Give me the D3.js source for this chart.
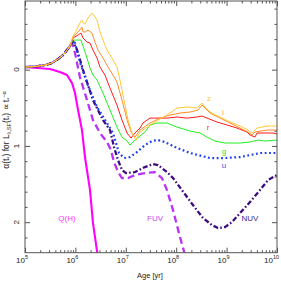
<!DOCTYPE html>
<html><head><meta charset="utf-8">
<script src="https://cdn.jsdelivr.net/npm/d3@7"></script>
<style>body{margin:0;background:#fff}svg{display:block}text{font-family:"Liberation Sans",Arial,sans-serif}</style>
</head><body><svg id="c" width="281" height="282"></svg>
<script>
// ---- data (age in yr, alpha) ----
const qhAge = [1e5,3.13e5,4.94e5,6.81e5,8.57e5,9.82e5,1.13e6,1.35e6,1.42e6,1.55e6,1.95e6,2.23e6,2.72e6,2.94e6];
const qhVal = [-0.034,-0.008,0.031,0.071,0.176,0.307,0.53,0.792,0.923,1.146,1.579,2.01,2.405,2.52];

const fuvAge = [1e5,1.58e5,2.49e5,3.43e5,4.52e5,5.68e5,6.81e5,7.82e5,8.57e5,9.82e5,1.23e6,1.70e6,2.23e6,3.08e6,4.24e6,5.08e6,5.83e6,7.0e6,8.41e6,1.11e7,1.52e7,2.4e7,3.79e7,5.22e7,6.56e7,8.65e7,1.19e8,1.5e8];
const fuvVal = [-0.034,-0.041,-0.060,-0.087,-0.139,-0.191,-0.257,-0.309,-0.362,-0.218,0.097,0.399,0.661,0.831,0.949,1.054,1.211,1.343,1.421,1.421,1.382,1.356,1.343,1.421,1.579,1.841,2.196,2.431];

const nuvAge = [1e5,1.58e5,2.49e5,3.43e5,4.52e5,5.68e5,6.81e5,7.82e5,8.96e5,1.08e6,1.42e6,2.23e6,3.53e6,4.86e6,5.83e6,7.0e6,8.41e6,1.01e7,1.52e7,2.4e7,3.47e7,4.36e7,6.56e7,8.65e7,1.30e8,2.15e8,3.40e8,5.13e8,6.75e8,9.29e8,1.28e9,1.85e9,2.91e9,4.6e9,6.62e9,1e10];
const nuvVal = [-0.034,-0.041,-0.060,-0.087,-0.139,-0.191,-0.257,-0.309,-0.375,-0.257,0.005,0.399,0.661,0.792,1.015,1.185,1.316,1.356,1.343,1.277,1.238,1.251,1.343,1.421,1.579,1.775,1.946,2.038,2.077,2.064,1.998,1.880,1.736,1.579,1.448,1.382];

const uAge = [1e5,1.58e5,2.49e5,3.43e5,4.52e5,5.68e5,6.81e5,7.82e5,8.96e5,9.82e5,1.23e6,1.70e6,2.69e6,4.24e6,5.57e6,6.4e6,7.33e6,9.2e6,1.21e7,1.67e7,2.4e7,3.31e7,4.36e7,6.0e7,9.47e7,1.88e8,4.69e8,9.29e8,1.85e9,2.91e9,4.6e9,7.26e9,1e10];
const uVal = [-0.034,-0.041,-0.060,-0.087,-0.139,-0.191,-0.257,-0.309,-0.388,-0.349,-0.100,0.176,0.490,0.700,0.831,0.962,1.093,1.159,1.146,1.080,0.989,0.936,0.923,0.949,1.015,1.093,1.159,1.159,1.146,1.120,1.093,1.093,1.093];

const gAge = [1e5,1.58e5,2.49e5,3.43e5,4.52e5,5.68e5,6.81e5,7.82e5,8.96e5,1.13e6,1.29e6,1.42e6,1.70e6,1.95e6,2.23e6,2.69e6,3.53e6,4.86e6,6.68e6,8.41e6,1.06e7,1.21e7,1.52e7,1.91e7,2.4e7,3.02e7,4.16e7,6.56e7,1.04e8,1.88e8,2.97e8,4.08e8,5.89e8,9.29e8,1.85e9,2.91e9,4.2e9,5.78e9,1e10];
const gVal = [-0.034,-0.041,-0.060,-0.087,-0.139,-0.191,-0.257,-0.309,-0.388,-0.388,-0.388,-0.309,-0.152,-0.021,0.071,0.136,0.307,0.530,0.753,0.884,0.936,0.989,0.923,0.871,0.818,0.726,0.700,0.700,0.753,0.805,0.831,0.884,0.936,0.962,0.962,0.949,0.923,0.936,0.923];

const rAge = [1e5,1.58e5,2.49e5,3.43e5,4.52e5,5.68e5,6.81e5,7.82e5,8.96e5,1.13e6,1.29e6,1.42e6,1.70e6,1.95e6,2.23e6,2.69e6,3.08e6,3.86e6,4.86e6,6.68e6,8.41e6,1.06e7,1.27e7,1.52e7,1.91e7,2.19e7,2.64e7,3.02e7,6.56e7,1.04e8,1.64e8,2.59e8,3.25e8,4.08e8,6.46e8,1.02e9,1.61e9,2.54e9,2.91e9,3.66e9,4.01e9,5.27e9,8.34e9,1e10];
const rVal = [-0.034,-0.041,-0.060,-0.087,-0.139,-0.191,-0.257,-0.309,-0.414,-0.454,-0.480,-0.414,-0.362,-0.349,-0.257,-0.152,-0.034,0.071,0.241,0.464,0.661,0.831,0.897,0.831,0.766,0.700,0.661,0.635,0.635,0.621,0.635,0.621,0.608,0.635,0.687,0.726,0.766,0.818,0.857,0.884,0.831,0.831,0.831,0.844];

const iAge = [1e5,1.58e5,2.49e5,3.43e5,4.52e5,5.68e5,6.81e5,7.82e5,8.96e5,1.08e6,1.23e6,1.35e6,1.42e6,1.55e6,1.78e6,2.13e6,2.45e6,2.81e6,3.53e6,4.44e6,5.57e6,6.68e6,8.41e6,1.06e7,1.27e7,1.52e7,1.91e7,3.02e7,4.77e7,7.53e7,1.19e8,1.88e8,2.71e8,3.25e8,3.72e8,4.69e8,7.40e8,1.17e9,1.85e9,2.66e9,3.19e9,3.66e9,6.34e9,1e10];
const iVal = [-0.034,-0.041,-0.060,-0.087,-0.139,-0.191,-0.257,-0.309,-0.427,-0.480,-0.519,-0.559,-0.493,-0.493,-0.519,-0.480,-0.362,-0.257,-0.152,-0.034,0.071,0.163,0.399,0.661,0.818,0.884,0.792,0.700,0.635,0.595,0.569,0.556,0.530,0.464,0.503,0.569,0.635,0.700,0.766,0.818,0.857,0.818,0.792,0.792];

const zAge = [1e5,1.58e5,2.49e5,3.43e5,4.52e5,5.68e5,6.81e5,7.82e5,8.96e5,9.82e5,1.23e6,1.35e6,1.42e6,1.55e6,1.78e6,2.13e6,2.23e6,2.69e6,3.08e6,3.53e6,4.24e6,5.32e6,6.68e6,7.67e6,9.2e6,1.11e7,1.33e7,1.59e7,1.91e7,3.47e7,6.56e7,1.04e8,1.64e8,2.59e8,3.25e8,3.72e8,4.69e8,7.40e8,1.17e9,1.85e9,2.66e9,3.19e9,4.01e9,6.34e9,1e10];
const zVal = [-0.034,-0.041,-0.060,-0.087,-0.139,-0.191,-0.257,-0.309,-0.441,-0.480,-0.611,-0.650,-0.611,-0.598,-0.677,-0.742,-0.729,-0.650,-0.493,-0.388,-0.257,-0.152,-0.034,0.136,0.399,0.661,0.831,0.923,0.818,0.700,0.595,0.503,0.490,0.503,0.438,0.490,0.556,0.621,0.687,0.739,0.792,0.831,0.766,0.739,0.739];

const xTickExps = [5,6,7,8,9,10];
const yMajor = [0,1,2];
const seriesNames = ["Q(H)","FUV","NUV","u","g","r","i","z"];

// ---- chart ----
const svg = d3.select("#c");
const x = d3.scaleLog().domain([1e5,1e10]).range([25,277]);
const y = d3.scaleLinear().domain([-0.9,2.4]).range([1,252.7]);

svg.append("clipPath").attr("id","clip").append("rect")
  .attr("x",25).attr("y",1).attr("width",252).attr("height",251.7);

const series = [
  {name:"Q(H)",age:qhAge,val:qhVal,color:"#ff00ff",w:2.1,dash:null,lab:[67,221]},
  {name:"FUV",age:fuvAge,val:fuvVal,color:"#b833f5",w:2.3,dash:"7,4",lab:[155,221]},
  {name:"NUV",age:nuvAge,val:nuvVal,color:"#3d0c80",w:2.3,dash:"5,2.2,1.6,2.2",lab:[250,221]},
  {name:"u",age:uAge,val:uVal,color:"#1f3ff0",w:2.2,dash:"1.8,2.6",lab:[224,168]},
  {name:"g",age:gAge,val:gVal,color:"#22ee22",w:1,dash:null,lab:[224,154]},
  {name:"r",age:rAge,val:rVal,color:"#ff1a1a",w:1,dash:null,lab:[208,130]},
  {name:"i",age:iAge,val:iVal,color:"#ff8c2a",w:1,dash:null,lab:[223,115]},
  {name:"z",age:zAge,val:zVal,color:"#ffc838",w:1,dash:null,lab:[209,101]}
];
const labColors = {"Q(H)":"#ff33ff","FUV":"#c04cf5","NUV":"#4a1a8a","u":"#3355ee","g":"#33dd33","r":"#ff3030","i":"#ffa060","z":"#ffc838"};

const line = d3.line().x(d=>x(d[0])).y(d=>y(d[1]));
const g = svg.append("g").attr("clip-path","url(#clip)");
series.forEach(s=>{
  const pts = s.age.map((a,i)=>[a,s.val[i]]);
  g.append("path").attr("d",line(pts)).attr("fill","none")
   .attr("stroke",s.color).attr("stroke-width",s.w)
   .attr("stroke-dasharray",s.dash).attr("stroke-linejoin","round");
});
series.forEach(s=>{
  svg.append("text").attr("x",s.lab[0]).attr("y",s.lab[1]).attr("text-anchor","middle")
    .attr("font-size",8).attr("fill",labColors[s.name]).text(s.name);
});

// axes
const axCol = "#555";
const majX = xTickExps.map(e=>Math.pow(10,e));
const minX = [];
for (let e=5;e<10;e++) for (let m=2;m<10;m++) minX.push(m*Math.pow(10,e));
const minY = d3.range(-8,24).map(v=>v/10).filter(v=>Math.abs(v*5-Math.round(v*5))<1e-6 && !yMajor.includes(v));

function styleAxis(sel){ sel.select(".domain").remove(); sel.selectAll("line").attr("stroke",axCol); sel.selectAll("text").remove(); }
svg.append("g").attr("transform","translate(0,252.7)").call(d3.axisBottom(x).tickValues(majX).tickSize(-5)).call(styleAxis);
svg.append("g").attr("transform","translate(0,252.7)").call(d3.axisBottom(x).tickValues(minX).tickSize(-2.5)).call(styleAxis);
svg.append("g").attr("transform","translate(0,1)").call(d3.axisTop(x).tickValues(majX).tickSize(-5)).call(styleAxis);
svg.append("g").attr("transform","translate(0,1)").call(d3.axisTop(x).tickValues(minX).tickSize(-2.5)).call(styleAxis);
svg.append("g").attr("transform","translate(25,0)").call(d3.axisLeft(y).tickValues(yMajor).tickSize(-5)).call(styleAxis);
svg.append("g").attr("transform","translate(25,0)").call(d3.axisLeft(y).tickValues(minY).tickSize(-2.5)).call(styleAxis);
svg.append("g").attr("transform","translate(277,0)").call(d3.axisRight(y).tickValues(yMajor).tickSize(-5)).call(styleAxis);
svg.append("g").attr("transform","translate(277,0)").call(d3.axisRight(y).tickValues(minY).tickSize(-2.5)).call(styleAxis);
svg.append("rect").attr("x",25).attr("y",1).attr("width",252).attr("height",251.7)
  .attr("fill","none").attr("stroke",axCol).attr("stroke-width",1);

// x tick labels
xTickExps.forEach(e=>{
  let cx = x(Math.pow(10,e)) - 3;
  if (e===10) cx = 271.5;
  const t = svg.append("text").attr("x",cx).attr("y",263).attr("text-anchor","middle").attr("font-size",8).attr("fill","#222");
  t.append("tspan").text("10");
  t.append("tspan").attr("dy",-4).attr("font-size",5.5).text(e);
});
// y tick labels
yMajor.forEach(v=>{
  svg.append("text").attr("transform",`translate(19,${y(v)}) rotate(-90)`).attr("text-anchor","middle")
    .attr("font-size",8).attr("fill","#222").text(v);
});
svg.append("text").attr("x",150).attr("y",278).attr("text-anchor","middle").attr("font-size",7.5).attr("fill","#222").text("Age [yr]");

// y axis title
const yt = svg.append("text").attr("transform","translate(9,130) rotate(-90)").attr("text-anchor","middle")
  .attr("font-size",8.5).attr("fill","#222");
yt.append("tspan").text("α(t");
yt.append("tspan").attr("dy",1.5).attr("font-size",5.5).text("*");
yt.append("tspan").attr("dy",-1.5).text(")  for  L");
yt.append("tspan").attr("dy",2).attr("font-size",5.5).text("λ,SF");
yt.append("tspan").attr("dy",-2).text("(t");
yt.append("tspan").attr("dy",1.5).attr("font-size",5.5).text("*");
yt.append("tspan").attr("dy",-1.5).text(")  ∝  t");
yt.append("tspan").attr("dy",1.5).attr("font-size",5.5).text("*");
yt.append("tspan").attr("dy",-5).attr("font-size",5.5).text("−α");
</script></body></html>
